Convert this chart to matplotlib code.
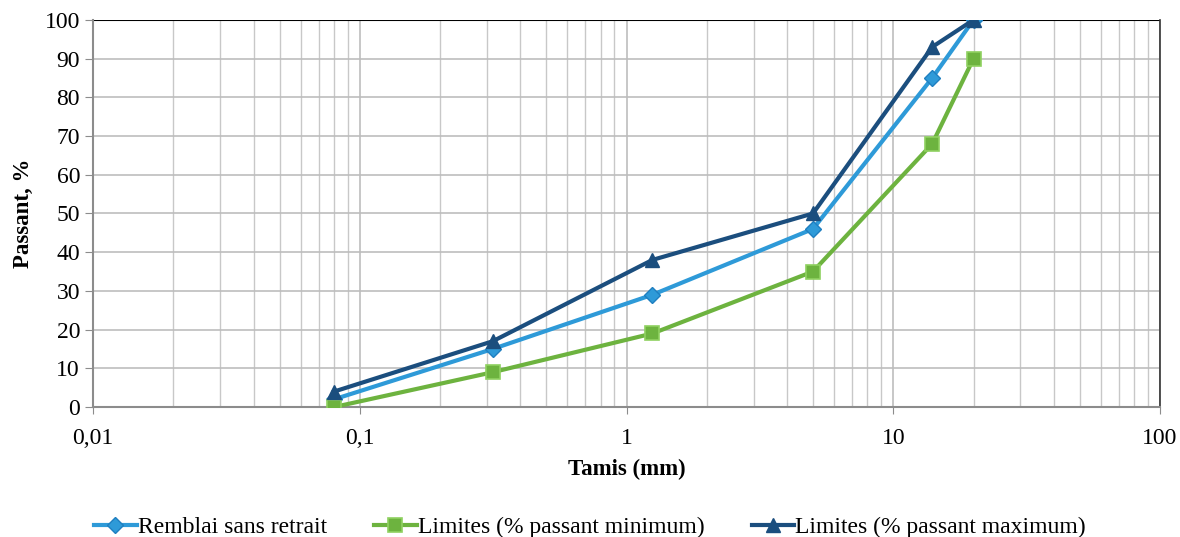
import matplotlib.pyplot as plt
from matplotlib.ticker import LogLocator, NullFormatter

plt.rcParams['font.family'] = ['Liberation Serif', 'DejaVu Serif']

tamis = [0.08, 0.315, 1.25, 5, 14, 20]
remblai = [2, 15, 29, 46, 85, 100]
lim_min = [0, 9, 19, 35, 68, 90]
lim_max = [4, 17, 38, 50, 93, 100]

x_ticks = [0.01, 0.1, 1, 10, 100]
x_labels = ['0,01', '0,1', '1', '10', '100']

fig = plt.figure(figsize=(11.8, 5.37), dpi=100)
ax = fig.add_axes([0.079, 0.242, 0.904, 0.721])

ax.plot(tamis, remblai, color='#2E9AD8', lw=3, marker='D', ms=8, mec='#1F7FC0',
        label='Remblai sans retrait', zorder=3)
ax.plot(tamis, lim_min, color='#6DB33F', lw=3, marker='s', ms=10, mec='#8FD160', mew=1.2,
        label='Limites (% passant minimum)', zorder=3)
ax.plot(tamis, lim_max, color='#1B4E7E', lw=3, marker='^', ms=10,
        label='Limites (% passant maximum)', zorder=4)

ax.set_xscale('log')
ax.set_xlim(0.01, 100)
ax.set_ylim(0, 100)
ax.set_xticks(x_ticks)
ax.set_xticklabels(x_labels)
ax.xaxis.set_minor_locator(LogLocator(base=10, subs=range(2, 10)))
ax.xaxis.set_minor_formatter(NullFormatter())
ax.set_yticks(range(0, 101, 10))

ax.grid(which='major', axis='both', color='#BDBDBD', lw=1.2)
ax.grid(which='minor', axis='x', color='#C8C8C8', lw=1.0)
ax.axhline(100, color='black', lw=1.5, zorder=2)

ax.spines['top'].set_visible(False)
ax.spines['right'].set_color('#333333')
ax.spines['right'].set_linewidth(1.2)
ax.spines['left'].set_color('#8C8C8C')
ax.spines['bottom'].set_color('#8C8C8C')
ax.spines['left'].set_linewidth(1.5)
ax.spines['bottom'].set_linewidth(1.5)
ax.tick_params(axis='y', which='major', length=6, color='#8C8C8C', labelsize=17)
ax.tick_params(axis='x', which='major', length=5, color='#8C8C8C', labelsize=17, pad=10)
ax.tick_params(axis='x', which='minor', length=0)

ax.set_xlabel('Tamis (mm)', fontsize=16.5, fontweight='bold', labelpad=7)
ax.set_ylabel('Passant, %', fontsize=16.5, fontweight='bold', labelpad=8)

fig.legend(loc='lower center', bbox_to_anchor=(0.5, -0.042), ncol=3, frameon=False,
           fontsize=17, handlelength=1.8, handletextpad=0.05, columnspacing=2.0)

fig.savefig('out.png', dpi=100)
